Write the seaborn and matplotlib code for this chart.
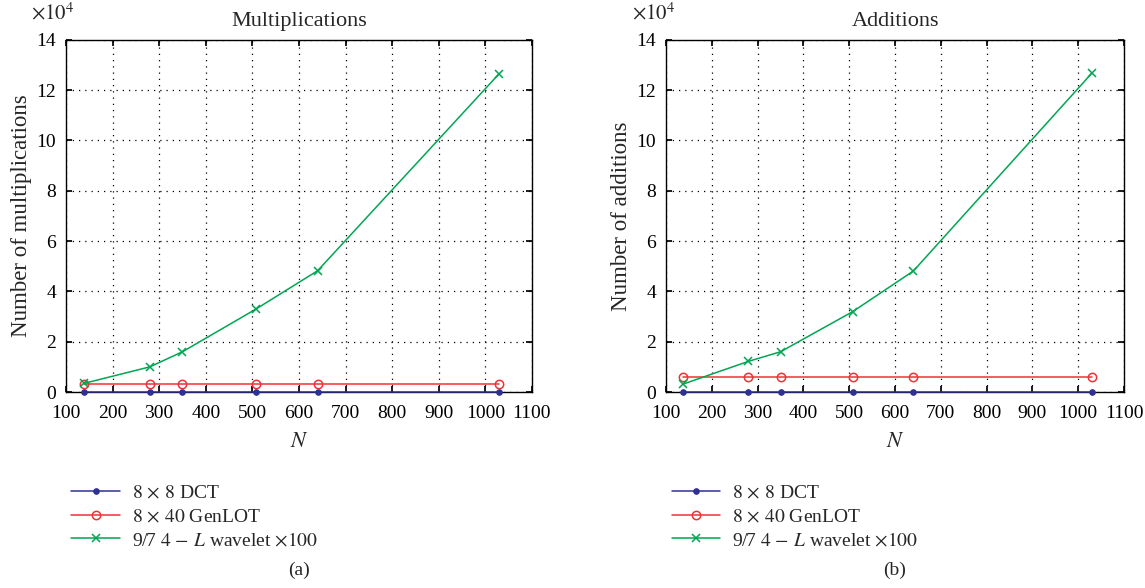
import matplotlib
matplotlib.use('Agg')

import numpy as np
import pandas as pd
import seaborn as sns
import matplotlib.pyplot as plt
from matplotlib.ticker import FuncFormatter

# block sizes N
n_values = [138, 280, 350, 508, 640, 1030]

# multiplications
mult_dct = [60, 60, 60, 60, 60, 60]
mult_genlot = [3300, 3300, 3300, 3300, 3300, 3300]
mult_wavelet = [3400, 10000, 16000, 33000, 48200, 126600]

# additions
add_dct = [80, 80, 80, 80, 80, 80]
add_genlot = [6100, 6100, 6100, 6100, 6100, 6100]
add_wavelet = [3200, 12200, 16000, 32000, 48100, 126800]

series_names = [r"$8\,\times\,8$ DCT", r"$8\,\times\,40$ GenLOT", r"9/7 $4\,-\,L$ wavelet $\times100$"]
x_ticks = [100, 200, 300, 400, 500, 600, 700, 800, 900, 1000, 1100]
y_ticks = [0, 20000, 40000, 60000, 80000, 100000, 120000, 140000]
y_scale = 1e4

sns.set_theme(style="white")
plt.rcParams['font.family'] = ['Liberation Serif', 'DejaVu Serif']
plt.rcParams['mathtext.fontset'] = 'stix'

colors = ['#2e3192', '#ee3338', '#00a651']
markers = [dict(marker='o', markersize=4, markerfacecolor=colors[0], markeredgecolor=colors[0]),
           dict(marker='o', markersize=6, markerfacecolor='none', markeredgecolor=colors[1], markeredgewidth=1.1),
           dict(marker='x', markersize=6, markeredgecolor=colors[2], markeredgewidth=1.1)]

fig = plt.figure(figsize=(11.45, 5.88), dpi=100)
ax_a = fig.add_axes([0.0576, 0.3333, 0.407, 0.599])
ax_b = fig.add_axes([0.5817, 0.3333, 0.400, 0.599])


def draw_panel(ax, dct, genlot, wavelet, title, ylabel, caption):
    data = pd.DataFrame({"N": n_values * 3,
                         "count": dct + genlot + wavelet,
                         "method": [series_names[0]] * 6 + [series_names[1]] * 6 + [series_names[2]] * 6})
    for i, name in enumerate(series_names):
        sub = data[data["method"] == name]
        sns.lineplot(data=sub, x="N", y="count", ax=ax, color=colors[i],
                     linewidth=1.1, label=name, clip_on=False, zorder=3, **markers[i])

    ax.set_xlim(100, 1100)
    ax.set_ylim(0, 140000)
    ax.set_xticks(x_ticks)
    ax.set_yticks(y_ticks)
    ax.yaxis.set_major_formatter(FuncFormatter(lambda v, p: f"{v / y_scale:g}"))
    ax.text(-0.075, 1.045, r"$\times10^4$", transform=ax.transAxes, ha='left', va='bottom',
            fontsize=15)

    ax.grid(True, color='black', linestyle=(0, (1, 4)), linewidth=0.9)
    ax.tick_params(direction='in', length=4, labelsize=14, top=True, right=True,
                   bottom=True, left=True, colors='black')
    ax.tick_params(axis='x', pad=9)
    ax.tick_params(axis='y', pad=7)
    for s in ax.spines.values():
        s.set_color('black')
        s.set_linewidth(1.0)

    ax.set_title(title, fontsize=16, pad=10)
    ax.set_xlabel(r"$N$", fontsize=16, labelpad=8)
    ax.set_ylabel(ylabel, fontsize=16.5, labelpad=3)

    ax.legend(loc='upper left', bbox_to_anchor=(-0.005, -0.24), frameon=False,
              fontsize=14, handlelength=2.5, handletextpad=0.6, labelspacing=0.3,
              borderaxespad=0)
    ax.text(0.5, -0.505, caption, transform=ax.transAxes, ha='center', va='center', fontsize=14)


draw_panel(ax_a, mult_dct, mult_genlot, mult_wavelet, "Multiplications",
           "Number of multiplications", "(a)")
draw_panel(ax_b, add_dct, add_genlot, add_wavelet, "Additions",
           "Number of additions", "(b)")

fig.savefig("out.png", dpi=100)
